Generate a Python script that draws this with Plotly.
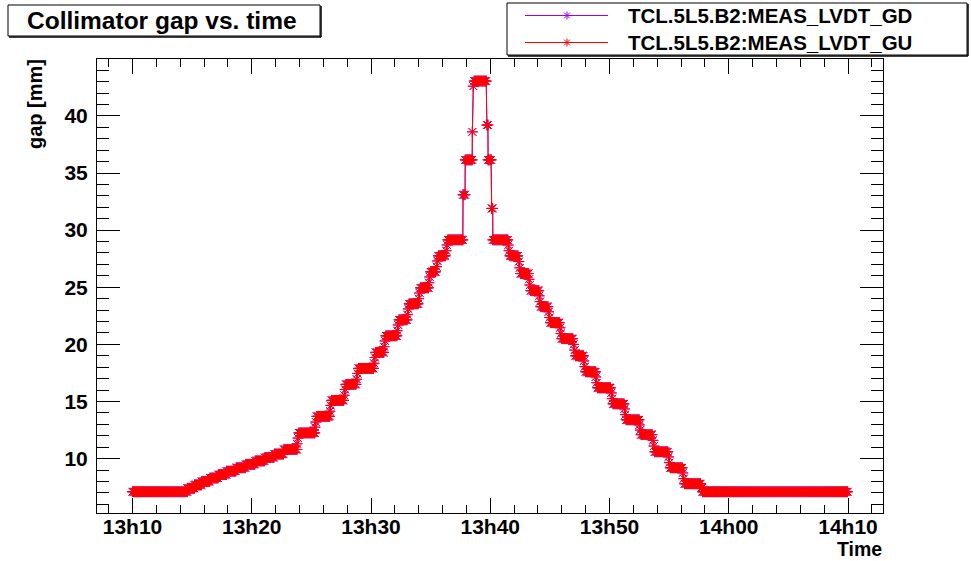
import pandas as pd
import plotly.graph_objects as go

# ---- data (minutes after 13:00, gap in mm) ----
# each entry: time of a reading; the value holds until the next entry
STEP_START = [10.0, 14.6, 15.2, 15.8, 16.5, 17.2, 17.9, 18.7, 19.5, 20.3, 21.1, 21.9, 22.7,
              23.8, 23.88, 23.95,
              25.3, 25.38, 25.45,
              26.55, 26.63, 26.7,
              27.75, 27.83, 27.9,
              28.8, 28.88, 28.95,
              30.25, 30.33, 30.4,
              31.1, 31.18, 31.25,
              32.2, 32.28, 32.35,
              33.05, 33.13, 33.2,
              34.0, 34.08, 34.15,
              34.85, 34.93, 35.0,
              35.5, 35.58, 35.65,
              36.3, 36.38, 36.45,
              37.72, 37.9, 38.5, 38.58, 38.66, 39.72, 39.82, 40.12, 40.22,
              41.5, 41.58, 41.65,
              42.4, 42.48, 42.55,
              43.25, 43.33, 43.4,
              44.1, 44.18, 44.25,
              44.9, 44.98, 45.05,
              45.85, 45.93, 46.0,
              47.0, 47.08, 47.15,
              47.85, 47.93, 48.0,
              48.85, 48.93, 49.0,
              50.15, 50.23, 50.3,
              51.25, 51.33, 51.4,
              52.5, 52.58, 52.65,
              53.65, 53.73, 53.8,
              54.95, 55.03, 55.1,
              56.15, 56.23, 56.3,
              57.7, 57.8]
STEP_GAP = [7.1, 7.4, 7.7, 8.0, 8.3, 8.6, 8.9, 9.2, 9.5, 9.8, 10.1, 10.4, 10.8,
            11.3, 11.8, 12.25,
            12.75, 13.2, 13.7,
            14.15, 14.65, 15.1,
            15.55, 16.05, 16.5,
            16.95, 17.45, 17.9,
            18.35, 18.85, 19.3,
            19.8, 20.3, 20.75,
            21.2, 21.7, 22.15,
            22.6, 23.1, 23.55,
            24.0, 24.5, 24.95,
            25.4, 25.9, 26.35,
            26.8, 27.3, 27.75,
            28.2, 28.7, 29.15,
            33.1, 36.15, 38.6, 42.6, 43.05, 39.2, 36.15, 31.9, 29.15,
            28.7, 28.2, 27.75,
            27.25, 26.7, 26.2,
            25.7, 25.2, 24.7,
            24.25, 23.75, 23.3,
            22.85, 22.35, 21.9,
            21.45, 20.95, 20.5,
            20.0, 19.5, 19.0,
            18.55, 18.05, 17.6,
            17.15, 16.65, 16.2,
            15.75, 15.25, 14.8,
            14.35, 13.85, 13.4,
            12.95, 12.5, 12.1,
            11.6, 11.1, 10.6,
            10.15, 9.65, 9.2,
            8.75, 8.25, 7.8,
            7.45, 7.1]
END_MIN = 70.0
SAMPLE_MIN = 1.0 / 12.0  # logging interval, 5 s

SERIES = ["TCL.5L5.B2:MEAS_LVDT_GD", "TCL.5L5.B2:MEAS_LVDT_GU"]
COLORS = ["#9a00ff", "#ff0000"]
X_TICK_FORMAT = "%Hh%M"
BASE = pd.Timestamp("2010-06-01 13:00:00")

# expand the readings into logged samples
t_min, gap = [], []
for i, (s, g) in enumerate(zip(STEP_START, STEP_GAP)):
    e = STEP_START[i + 1] if i + 1 < len(STEP_START) else END_MIN + 1e-9
    t = s
    while t < e - 1e-9 or t == s:
        t_min.append(t)
        gap.append(g)
        t += SAMPLE_MIN
times = BASE + pd.to_timedelta(t_min, unit="m")

W, H = 971, 561
L, R, T, B = 97, 883, 59, 513
FONT = "Liberation Sans, Arial, Helvetica, sans-serif"

def px(x):
    return x / W

def py(y):
    return 1 - y / H

fig = go.Figure()
for name, col in zip(SERIES, COLORS):
    fig.add_trace(go.Scatter(
        x=times, y=gap, name=name, mode="lines+markers",
        line=dict(color=col, width=1),
        marker=dict(symbol="asterisk-open", size=9, color=col,
                    line=dict(color=col, width=1)),
        showlegend=False,
    ))

fig.update_layout(
    width=W, height=H,
    margin=dict(l=0, r=0, t=0, b=0),
    paper_bgcolor="white", plot_bgcolor="white",
    font=dict(family=FONT, color="black"),
)
fig.update_xaxes(
    domain=[px(L), px(R)],
    type="date",
    range=[BASE + pd.Timedelta(minutes=7.023), BASE + pd.Timedelta(minutes=72.935)],
    tick0=BASE + pd.Timedelta(minutes=10), dtick=600000, tickformat=X_TICK_FORMAT,
    ticks="inside", ticklen=15, tickwidth=1, tickcolor="black",
    minor=dict(dtick=120000, tick0=BASE + pd.Timedelta(minutes=10), ticks="inside",
               ticklen=8, tickwidth=1, tickcolor="black", showgrid=False),
    showline=True, linecolor="black", linewidth=1, mirror="allticks",
    showgrid=False, zeroline=False,
    tickfont=dict(family=FONT, size=21, color="black", weight="bold"),
    ticklabelstandoff=-5,
)
fig.update_yaxes(
    domain=[py(B), py(T)],
    range=[5.24, 44.98],
    tick0=0, dtick=5,
    ticks="inside", ticklen=23, tickwidth=1, tickcolor="black",
    minor=dict(dtick=1, ticks="inside", ticklen=12, tickwidth=1, tickcolor="black",
               showgrid=False),
    showline=True, linecolor="black", linewidth=1, mirror="allticks",
    showgrid=False, zeroline=False,
    tickfont=dict(family=FONT, size=21, color="black", weight="bold"),
    ticklabelstandoff=4,
)

shapes = []
ann = []

# title box
shapes.append(dict(type="rect", xref="paper", yref="paper", x0=px(8), x1=px(320), y0=py(36), y1=py(5),
                   line=dict(color="black", width=1), fillcolor="white", layer="above"))
shapes.append(dict(type="line", xref="paper", yref="paper", x0=px(321), x1=px(321), y0=py(6), y1=py(37),
                   line=dict(color="black", width=1.5)))
shapes.append(dict(type="line", xref="paper", yref="paper", x0=px(9), x1=px(321), y0=py(37), y1=py(37),
                   line=dict(color="black", width=1.5)))
ann.append(dict(text="<b>Collimator gap vs. time</b>", xref="paper", yref="paper",
                x=px(162), y=py(20.5), xanchor="center", yanchor="middle", showarrow=False,
                font=dict(family=FONT, size=24.5, color="black")))

# legend box
shapes.append(dict(type="rect", xref="paper", yref="paper", x0=px(507), x1=px(967), y0=py(55), y1=py(3),
                   line=dict(color="black", width=1), fillcolor="white", layer="above"))
shapes.append(dict(type="line", xref="paper", yref="paper", x0=px(968), x1=px(968), y0=py(4), y1=py(56),
                   line=dict(color="black", width=1.5)))
shapes.append(dict(type="line", xref="paper", yref="paper", x0=px(508), x1=px(968), y0=py(56), y1=py(56),
                   line=dict(color="black", width=1.5)))
for row, (name, col) in enumerate(zip(SERIES, COLORS)):
    yc = 15.5 + 27 * row
    shapes.append(dict(type="line", xref="paper", yref="paper", x0=px(525), x1=px(608), y0=py(yc), y1=py(yc),
                       line=dict(color=col, width=1)))
    mx, r = 567, 4
    for dx, dy in [(r, 0), (0, r), (r * 0.72, r * 0.72), (r * 0.72, -r * 0.72)]:
        shapes.append(dict(type="line", xref="paper", yref="paper",
                           x0=px(mx - dx), x1=px(mx + dx), y0=py(yc - dy), y1=py(yc + dy),
                           line=dict(color=col, width=1)))
    ann.append(dict(text="<b>%s</b>" % name, xref="paper", yref="paper",
                    x=px(626), y=py(yc), xanchor="left", yanchor="middle", showarrow=False,
                    font=dict(family=FONT, size=20.5, color="black")))

# axis titles
ann.append(dict(text="<b>gap [mm]</b>", xref="paper", yref="paper", x=px(35), y=py(104),
                xanchor="center", yanchor="middle", textangle=-90, showarrow=False,
                font=dict(family=FONT, size=20, color="black")))
ann.append(dict(text="<b>Time</b>", xref="paper", yref="paper", x=px(884), y=py(549),
                xanchor="right", yanchor="middle", showarrow=False,
                font=dict(family=FONT, size=19.5, color="black")))

fig.update_layout(shapes=shapes, annotations=ann)
fig.write_html("out.html")
